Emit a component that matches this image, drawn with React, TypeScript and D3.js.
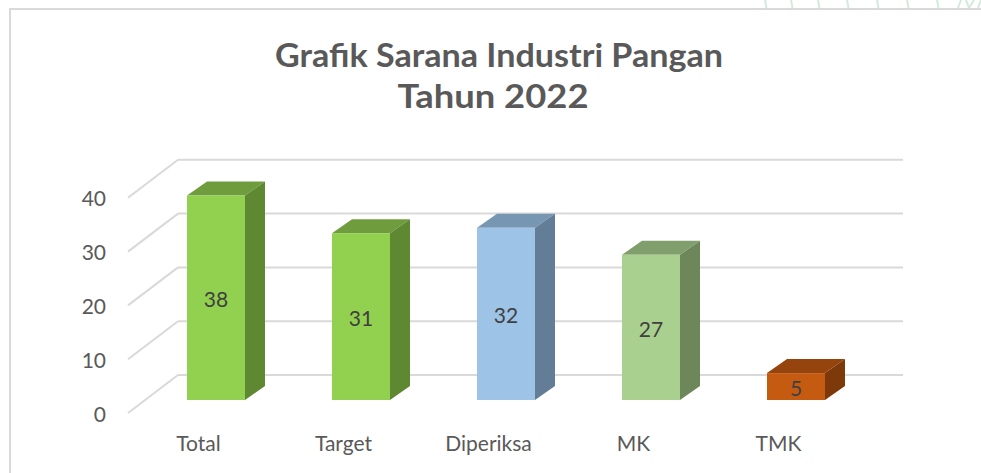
import React from "react";
import * as d3 from "d3";

const categories = ["Total", "Target", "Diperiksa", "MK", "TMK"];
const values = [38, 31, 32, 27, 5];
const frontColors = ["#92D050", "#92D050", "#9DC3E6", "#A9D08E", "#C55A11"];
const topColors = ["#6F9C3D", "#6F9C3D", "#7796B2", "#819F6C", "#96440E"];
const sideColors = ["#5E8832", "#5E8832", "#637D96", "#6D875B", "#7E390B"];
const yTicks = [0, 10, 20, 30, 40];
const titleLines = ["Grafik Sarana Industri Pangan", "Tahun 2022"];

const W = 981;
const H = 473;
const DX = 20;
const DY = -14;
const BAR_W = 58;

export default function App() {
  const x = d3.scalePoint<string>().domain(categories).range([143.5, 868.5]).padding(0.5);
  const y = d3.scaleLinear().domain([0, 40]).range([400, 184.8]);
  const font = "Lato, 'Open Sans', sans-serif";
  const decoX = [765, 791, 818, 847, 877, 907, 937];

  return (
    <div style={{ position: "absolute", left: 0, top: 0 }}>
      <svg width={W} height={H} style={{ display: "block", background: "#fff" }}>
        {decoX.map((dx, i) => (
          <line key={i} x1={dx} y1={0} x2={dx + 1.5} y2={8} stroke="#D3EADB" strokeWidth={2} />
        ))}
        <path d="M958,8 L961,0 M966,0 L969,8 L974,0 M978,8 L981,0" stroke="#D3EADB" strokeWidth={2} fill="none" />
        <rect x={10} y={9} width={1000} height={500} fill="#fff" stroke="#D9D9D9" strokeWidth={2} />

        {titleLines.map((t, i) => (
          <text
            key={t}
            x={i === 0 ? 499 : 493}
            y={i === 0 ? 67 : 108}
            textAnchor="middle"
            fontFamily={font}
            fontWeight={700}
            fontSize={33}
            fill="#595959"
            textLength={i === 0 ? 448 : 191}
            lengthAdjust="spacingAndGlyphs"
          >
            {t}
          </text>
        ))}

        {yTicks.map((v) => (
          <g key={v}>
            <line x1={128} y1={y(v) + 13} x2={178} y2={y(v) - 25} stroke="#D9D9D9" strokeWidth={2} />
            <line x1={178} y1={y(v) - 25} x2={903} y2={y(v) - 25} stroke="#D9D9D9" strokeWidth={2} />
            <text
              x={106}
              y={y(v) + 13}
              textAnchor="end"
              dominantBaseline="central"
              fontFamily={font}
              fontSize={21}
              fill="#595959"
            >
              {v}
            </text>
          </g>
        ))}

        {categories.map((c, i) => {
          const cx = x(c) as number;
          const x0 = cx - BAR_W / 2;
          const x1 = cx + BAR_W / 2;
          const yt = y(values[i]);
          const yb = y(0);
          return (
            <g key={c}>
              <polygon
                points={`${x0},${yt} ${x0 + DX},${yt + DY} ${x1 + DX},${yt + DY} ${x1},${yt}`}
                fill={topColors[i]}
              />
              <polygon
                points={`${x1},${yt} ${x1 + DX},${yt + DY} ${x1 + DX},${yb + DY} ${x1},${yb}`}
                fill={sideColors[i]}
              />
              <rect x={x0} y={yt} width={BAR_W} height={yb - yt} fill={frontColors[i]} />
              <text
                x={cx}
                y={(yt + yb) / 2 + 1}
                textAnchor="middle"
                dominantBaseline="central"
                fontFamily={font}
                fontSize={21}
                fill="#404040"
              >
                {values[i]}
              </text>
              <text
                x={cx - 17.5}
                y={451}
                textAnchor="middle"
                fontFamily={font}
                fontSize={21}
                fill="#595959"
              >
                {c}
              </text>
            </g>
          );
        })}
      </svg>
    </div>
  );
}
